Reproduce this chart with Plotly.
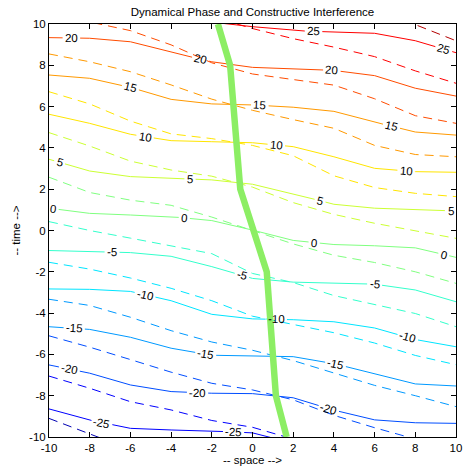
import math
import numpy as np
import plotly.graph_objects as go

# sampled space positions
space = [-10, -8, -6, -4, -2, 0, 2, 4, 6, 8, 10]

# labelled phase contours (solid): time at each sampled space position
solid_levels = [25, 20, 15, 10, 5, 0, -5, -10, -15, -20, -25]
solid_time = {
    25: [11.2, 10.9, 10.6, 10.35, 10.09, 9.87, 9.68, 9.61, 9.55, 9.19, 8.61],
    20: [9.34, 9.31, 9.14, 8.63, 8.17, 7.9, 7.84, 7.75, 7.5, 6.89, 6.51],
    15: [7.53, 7.37, 6.93, 6.35, 6.13, 6.08, 5.97, 5.77, 5.25, 4.77, 4.62],
    10: [5.63, 5.19, 4.66, 4.35, 4.3, 4.25, 4.06, 3.57, 3.01, 2.85, 2.82],
    5: [3.45, 2.88, 2.61, 2.53, 2.45, 2.24, 1.78, 1.27, 1.08, 1.0, 0.95],
    0: [1.08, 0.83, 0.75, 0.67, 0.48, 0.02, -0.48, -0.68, -0.74, -0.84, -1.3],
    -5: [-0.97, -1.02, -1.07, -1.25, -1.75, -2.32, -2.5, -2.54, -2.6, -2.88, -3.45],
    -10: [-2.83, -2.85, -2.95, -3.4, -4.06, -4.28, -4.32, -4.42, -4.72, -5.28, -5.63],
    -15: [-4.66, -4.79, -5.17, -5.7, -6.04, -6.08, -6.11, -6.45, -6.93, -7.43, -7.53],
    -20: [-6.51, -6.91, -7.48, -7.8, -7.88, -7.9, -8.1, -8.7, -9.17, -9.31, -9.34],
    -25: [-8.64, -9.18, -9.58, -9.66, -9.71, -9.8, -10.3, -10.8, -11.2, -11.4, -11.5],
}

# second wave's phase contours (dashed): time at each sampled space position
dashed_levels = [30, 25, 20, 15, 10, 5, 0, -5, -10, -15, -20, -25, -30]
dashed_time = {
    30: [13.0, 12.6, 12.2, 11.8, 11.5, 11.2, 11.0, 10.95, 10.55, 9.97, 9.19],
    25: [12.5, 12.0, 11.5, 11.0, 10.35, 9.78, 9.29, 8.88, 8.42, 7.73, 7.13],
    20: [10.45, 10.1, 9.68, 8.99, 8.12, 7.58, 7.31, 7.04, 6.38, 5.56, 5.19],
    15: [8.55, 8.17, 7.69, 7.05, 6.36, 5.82, 5.37, 4.95, 4.12, 3.68, 3.57],
    10: [6.72, 6.13, 5.3, 4.68, 4.45, 4.12, 3.62, 2.65, 2.08, 1.8, 1.64],
    5: [4.74, 4.09, 3.36, 2.93, 2.63, 2.1, 1.35, 0.78, 0.35, -0.02, -0.38],
    0: [2.58, 1.84, 1.47, 1.22, 0.65, 0.0, -0.65, -1.2, -1.55, -2.0, -2.56],
    -5: [0.43, 0.0, -0.37, -0.75, -1.12, -2.08, -2.52, -3.15, -3.6, -4.02, -4.66],
    -10: [-1.54, -1.87, -2.3, -2.8, -3.4, -4.15, -4.55, -4.95, -5.45, -6.05, -6.5],
    -15: [-3.33, -3.63, -4.2, -4.85, -5.4, -5.8, -6.3, -6.9, -7.5, -8.0, -8.53],
    -20: [-5.1, -5.65, -6.25, -6.86, -7.4, -7.72, -8.2, -8.95, -9.55, -10.1, -10.4],
    -25: [-7.05, -7.64, -8.29, -8.69, -9.2, -9.53, -10.1, -10.7, -11.2, -11.6, -12.0],
    -30: [-9.1, -9.85, -10.6, -11.2, -11.8, -12.3, -12.8, -13.2, -13.6, -14.0, -14.4],
}

# path of constructive interference
path_time = [10, 8, 2, -2, -8, -10]
path_space = [-1.7, -1.1, -0.6, 0.7, 1.15, 1.68]

# where the inline contour labels sit along each solid contour
label_space = {
    25: [3.0, 9.4],
    20: [-8.9, -2.55, 3.9],
    15: [-6.0, 0.36, 6.83],
    10: [-5.28, 1.17, 7.55],
    5: [-9.48, -3.07, 3.32, 9.73],
    0: [-9.8, -3.35, 3.03, 9.4],
    -5: [-6.9, -0.52, 6.0],
    -10: [-5.28, 1.17, 7.63],
    -15: [-8.76, -2.3, 4.08],
    -20: [-9.0, -2.7, 3.75],
    -25: [-7.4, -0.93],
}

ticks = list(range(-10, 11, 2))
tick_text = [str(v) for v in ticks]

FONT = "Liberation Sans, Arial, Helvetica, sans-serif"
FS = 11.5
PLOT_PX = 413
PX_PER_UNIT = PLOT_PX / 20.0


def jet(f):
    f = min(max(f, 0.0), 1.0)
    r = min(max(1.5 - abs(4 * f - 3), 0), 1)
    g = min(max(1.5 - abs(4 * f - 2), 0), 1)
    b = min(max(1.5 - abs(4 * f - 1), 0), 1)
    return "rgb(%d,%d,%d)" % (round(r * 255), round(g * 255), round(b * 255))


def level_color(level):
    return jet(0.5 + 0.75 * level / 50.0)


def text_width_px(s):
    w = 0.0
    for ch in s:
        w += 3.8 if ch == "-" else 6.4
    return w


def slope_at(xs, ts, x):
    h = 0.15
    return (np.interp(x + h, xs, ts) - np.interp(x - h, xs, ts)) / (2 * h)


def broken_line(xs, ts, gaps):
    pts = sorted(set(list(xs) + [g for ab in gaps for g in ab]))
    ox, oy = [], []
    for p in pts:
        if any(a < p < b for a, b in gaps):
            continue
        ox.append(p)
        oy.append(float(np.interp(p, xs, ts)))
        if any(abs(p - a) < 1e-9 for a, b in gaps):
            ox.append(None)
            oy.append(None)
    return ox, oy


fig = go.Figure()

# dashed contours
for lv in dashed_levels:
    fig.add_trace(go.Scatter(
        x=space, y=dashed_time[lv], mode="lines",
        line=dict(color=level_color(lv), width=1, dash="9px,6px"),
        hoverinfo="skip",
    ))

annotations = []
# solid contours, broken where their labels sit
for lv in solid_levels:
    ts = solid_time[lv]
    txt = str(lv)
    gaps = []
    for lx in label_space[lv]:
        s = slope_at(space, ts, lx)
        ang = math.atan(s)
        half = (text_width_px(txt) / 2 + 2.5) / PX_PER_UNIT * math.cos(ang)
        gaps.append((lx - half, lx + half))
        annotations.append(dict(
            x=lx, y=float(np.interp(lx, space, ts)), xref="x", yref="y",
            text=txt, showarrow=False, xanchor="center", yanchor="middle",
            textangle=-math.degrees(ang),
            font=dict(family=FONT, size=FS, color="black"),
        ))
    bx, by = broken_line(space, ts, gaps)
    fig.add_trace(go.Scatter(
        x=bx, y=by, mode="lines", connectgaps=False,
        line=dict(color=level_color(lv), width=1),
        hoverinfo="skip",
    ))

# constructive interference path
fig.add_trace(go.Scatter(
    x=path_space, y=path_time, mode="lines",
    line=dict(color="rgb(140,238,100)", width=6.5),
    hoverinfo="skip",
))

axis_common = dict(
    range=[-10, 10], tickvals=ticks, ticktext=tick_text,
    ticks="inside", ticklen=5, tickcolor="black", tickwidth=1,
    showline=True, linecolor="black", linewidth=1, mirror="ticks",
    showgrid=False, zeroline=False,
    tickfont=dict(family=FONT, size=FS, color="black"),
)

fig.update_layout(
    width=469, height=472,
    margin=dict(l=49, r=7, t=24, b=35),
    paper_bgcolor="white", plot_bgcolor="white",
    showlegend=False,
    font=dict(family=FONT, size=FS, color="black"),
    title=dict(text="Dynamical Phase and Constructive Interference",
               x=0.5, xref="paper", xanchor="center",
               y=1 - 11.5 / 472, yref="container", yanchor="middle",
               font=dict(family=FONT, size=FS, color="black")),
    xaxis=dict(axis_common, title=dict(text="-- space -->", standoff=3,
                                       font=dict(family=FONT, size=FS))),
    yaxis=dict(axis_common, title=dict(text="-- time -->", standoff=6,
                                       font=dict(family=FONT, size=FS))),
    annotations=annotations,
)

fig.write_html("out.html")
